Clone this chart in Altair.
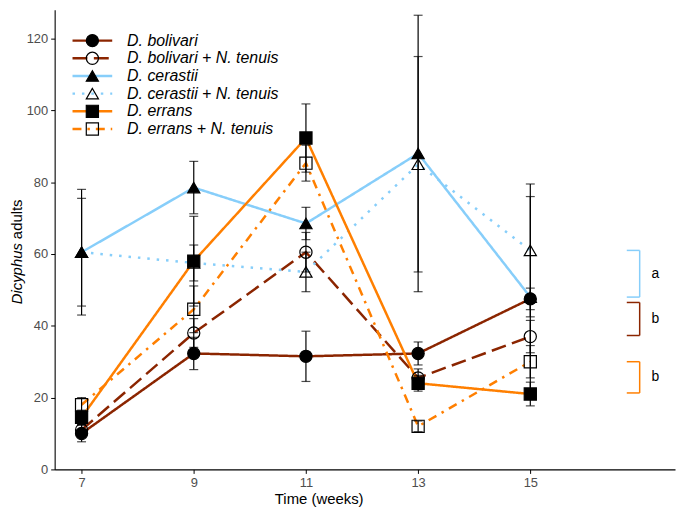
import altair as alt
import pandas as pd

weeks = [7, 9, 11, 13, 15]
series = ["D. bolivari", "D. bolivari + N. tenuis", "D. cerastii",
          "D. cerastii + N. tenuis", "D. errans", "D. errans + N. tenuis"]

bolivari = [10, 32.3, 31.5, 32.3, 47.5]
bolivari_se = [2.3, 4.5, 7.0, 3.2, 3.0]
bolivari_nt = [11, 38, 60.5, 25.5, 37]
bolivari_nt_se = [1.5, 4.0, 5.5, 2.5, 4.5]
cerastii = [60.5, 78.5, 68.5, 88, 48]
cerastii_se = [17.5, 7.3, 4.5, 38.5, 28]
cerastii_nt = [60.5, 57.5, 55, 85, 61]
cerastii_nt_se = [15, 5, 5.5, 30, 18.5]
errans = [14.5, 58, 92.3, 24, 21]
errans_se = [2, 12.5, 9.5, 2.2, 3.3]
errans_nt = [18, 44.6, 85.3, 12, 30]
errans_nt_se = [2, 6.5, 5, 1.5, 4.5]

means = [bolivari, bolivari_nt, cerastii, cerastii_nt, errans, errans_nt]
ses = [bolivari_se, bolivari_nt_se, cerastii_se, cerastii_nt_se, errans_se, errans_nt_se]

colors = ["#8B2500", "#8B2500", "#87CEFA", "#87CEFA", "#FF7F00", "#FF7F00"]
dashes = [[1, 0], [15, 6.5], [1, 0], [2.5, 7], [1, 0], [9, 6, 2.5, 6]]
shapes = ["circle", "circle", "triangle-up", "triangle-up", "square", "square"]
fills = ["black", "transparent", "black", "transparent", "black", "transparent"]

# significance brackets at week 15
bracket_top = [61, 46.5, 30]
bracket_bottom = [48, 37.3, 21.3]
bracket_letters = ["a", "b", "b"]
bracket_series = ["D. cerastii", "D. bolivari", "D. errans"]
bracket_x_in = 16.72
bracket_x_out = 16.95
letter_x = 17.16

rows = []
for s, m, e in zip(series, means, ses):
    for w, v, se in zip(weeks, m, e):
        rows.append({"series": s, "week": w, "value": v, "lo": v - se, "hi": v + se})
df = pd.DataFrame(rows)

bdf = pd.DataFrame({"series": bracket_series, "top": bracket_top, "bottom": bracket_bottom,
                    "letter": bracket_letters, "xin": bracket_x_in, "xout": bracket_x_out,
                    "lx": letter_x, "mid": [(a + b) / 2 for a, b in zip(bracket_top, bracket_bottom)]})

xscale = alt.Scale(domain=[6.52, 17.58], nice=False)
yscale = alt.Scale(domain=[0, 128], nice=False)
color_scale = alt.Scale(domain=series, range=colors)
dash_scale = alt.Scale(domain=series, range=dashes)
shape_scale = alt.Scale(domain=series, range=shapes)
fill_scale = alt.Scale(domain=series, range=fills)

X = alt.X("week:Q", scale=xscale,
          axis=alt.Axis(values=weeks, format="d", title="Time (weeks)", titleX=266))
Y = alt.Y("value:Q", scale=yscale,
          axis=alt.Axis(values=[0, 20, 40, 60, 80, 100, 120], format="d", title=None))

base = alt.Chart(df)

lines = base.mark_line(strokeWidth=2.5).encode(
    x=X, y=Y,
    color=alt.Color("series:N", scale=color_scale, legend=None),
    strokeDash=alt.StrokeDash("series:N", scale=dash_scale, legend=None),
    detail="series:N",
)

bars = base.mark_rule(color="black", strokeWidth=1.2).encode(
    x="week:Q", y="lo:Q", y2="hi:Q")
caps_lo = base.mark_tick(color="black", orient="horizontal", size=9, thickness=1.2).encode(
    x="week:Q", y="lo:Q")
caps_hi = base.mark_tick(color="black", orient="horizontal", size=9, thickness=1.2).encode(
    x="week:Q", y="hi:Q")

points = base.mark_point(filled=True, stroke="black", strokeWidth=1.2, size=150, opacity=1).encode(
    x="week:Q", y="value:Q",
    shape=alt.Shape("series:N", scale=shape_scale, legend=None),
    fill=alt.Fill("series:N", scale=fill_scale, legend=None),
)

bchart = alt.Chart(bdf)
b_vert = bchart.mark_rule(strokeWidth=1.5).encode(
    x="xout:Q", y="top:Q", y2="bottom:Q",
    color=alt.Color("series:N", scale=color_scale, legend=None))
b_top = bchart.mark_rule(strokeWidth=1.5).encode(
    x="xin:Q", x2="xout:Q", y="top:Q",
    color=alt.Color("series:N", scale=color_scale, legend=None))
b_bot = bchart.mark_rule(strokeWidth=1.5).encode(
    x="xin:Q", x2="xout:Q", y="bottom:Q",
    color=alt.Color("series:N", scale=color_scale, legend=None))
b_txt = bchart.mark_text(fontSize=14, font="Liberation Sans", color="black", align="left",
                         baseline="middle").encode(x="lx:Q", y="mid:Q", text="letter:N")

main = alt.layer(lines, bars, caps_lo, caps_hi, points, b_vert, b_top, b_bot, b_txt)

# manual legend
ldf = pd.DataFrame({"series": series})
LY = alt.Y("series:N", scale=alt.Scale(domain=series, range=[31, 120], type="point", padding=0), axis=None)
leg_lines = alt.Chart(ldf).mark_rule(strokeWidth=2.5).encode(
    x=alt.value(18), x2=alt.value(58), y=LY,
    color=alt.Color("series:N", scale=color_scale, legend=None),
    strokeDash=alt.StrokeDash("series:N", scale=dash_scale, legend=None))
leg_pts = alt.Chart(ldf).mark_point(filled=True, stroke="black", strokeWidth=1.2, size=150, opacity=1).encode(
    x=alt.value(38), y=LY,
    shape=alt.Shape("series:N", scale=shape_scale, legend=None),
    fill=alt.Fill("series:N", scale=fill_scale, legend=None))
leg_txt = alt.Chart(ldf).mark_text(fontSize=16, font="Liberation Sans", fontStyle="italic",
                                   align="left", baseline="middle", color="black").encode(
    x=alt.value(73), y=LY, text="series:N")

ttl1 = alt.Chart(pd.DataFrame({"t": ["Dicyphus"]})).mark_text(
    fontSize=15, font="Liberation Sans", fontStyle="italic", angle=270, align="right",
    baseline="middle", color="black").encode(x=alt.value(-38), y=alt.value(235), text="t:N")
ttl2 = alt.Chart(pd.DataFrame({"t": ["adults"]})).mark_text(
    fontSize=15, font="Liberation Sans", angle=270, align="left",
    baseline="middle", color="black").encode(x=alt.value(-38), y=alt.value(231), text="t:N")

legend = alt.layer(leg_lines, leg_pts, leg_txt, ttl1, ttl2)

chart = alt.layer(main, legend).resolve_scale(y="independent").properties(
    width=625, height=463,
    autosize=alt.AutoSizeParams(type="none"),
    padding={"left": 47, "top": 0, "right": 2, "bottom": 38},
).configure_view(stroke=None).configure_axis(
    grid=False, domainColor="black", domainWidth=1.1, tickColor="black", tickSize=4,
    labelColor="#4D4D4D", labelFontSize=13, labelFont="Liberation Sans",
    titleFont="Liberation Sans", titleFontSize=15, titleFontWeight="normal", titleColor="black",
    labelPadding=3, titlePadding=2,
)

chart.save("out.html", embed_options={"renderer": "svg", "actions": False})
